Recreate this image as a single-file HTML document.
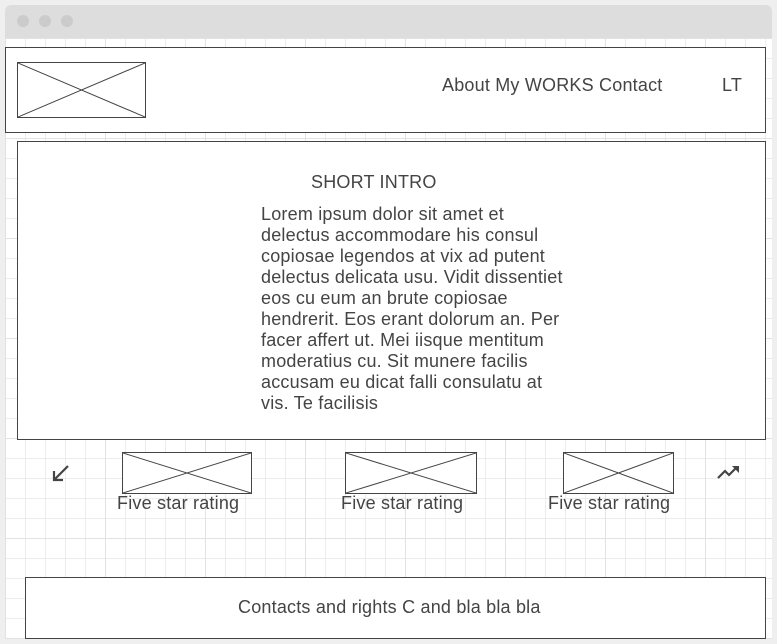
<!DOCTYPE html>
<html><head><meta charset="utf-8"><style>
*{box-sizing:border-box;margin:0;padding:0}
body{width:777px;height:644px;background:#efefef;position:relative;overflow:hidden;font-family:"Liberation Sans",sans-serif;color:#444}
.win{position:absolute;left:5px;top:5px;width:767px;height:634px;background:#fff;border-radius:6px 6px 0 0;overflow:hidden}
.bar{position:absolute;left:0;top:0;width:100%;height:33px;background:#dddddd}
.dot{position:absolute;top:10px;width:12px;height:12px;border-radius:50%;background:#cbcbcb}
.grid{position:absolute;left:0;top:33px;width:100%;height:601px;
background-image:linear-gradient(#e2e2e2 1px,transparent 1px),linear-gradient(90deg,#e2e2e2 1px,transparent 1px),linear-gradient(#ececec 1px,transparent 1px),linear-gradient(90deg,#ececec 1px,transparent 1px);
background-size:100px 100px,100px 100px,20px 20px,20px 20px;background-position:0 0,0 0,0 0,0 0}
.box{position:absolute;border:1.5px solid #444;background:#fff}
.ph{position:absolute;border:1.3px solid #444;background:#fff}
.ph svg{position:absolute;left:0;top:0;width:100%;height:100%}
.t{position:absolute;font-size:18px;letter-spacing:0.2px;white-space:nowrap}
</style></head><body>
<div class="win">
<div class="bar">
<div class="dot" style="left:12px"></div>
<div class="dot" style="left:34px"></div>
<div class="dot" style="left:56px"></div>
</div>
<div class="grid"></div>
</div>

<div class="box" style="left:5px;top:47px;width:761px;height:86px"></div>
<div class="ph" style="left:17px;top:62px;width:129px;height:56px"><svg preserveAspectRatio="none" viewBox="0 0 100 100"><line x1="0" y1="0" x2="100" y2="100" stroke="#444" stroke-width="1" vector-effect="non-scaling-stroke"/><line x1="100" y1="0" x2="0" y2="100" stroke="#444" stroke-width="1" vector-effect="non-scaling-stroke"/></svg></div>
<div class="t" style="left:442px;top:75px">About My WORKS Contact</div>
<div class="t" style="left:722px;top:75px">LT</div>

<div class="box" style="left:17px;top:141px;width:749px;height:299px"></div>
<div class="t" style="left:311px;top:172px">SHORT INTRO</div>
<div style="position:absolute;left:261px;top:204px;width:306px;font-size:18px;letter-spacing:0.2px;line-height:21px;color:#444">Lorem ipsum dolor sit amet et delectus accommodare his consul copiosae legendos at vix ad putent delectus delicata usu. Vidit dissentiet eos cu eum an brute copiosae hendrerit. Eos erant dolorum an. Per facer affert ut. Mei iisque mentitum moderatius cu. Sit munere facilis accusam eu dicat falli consulatu at vis. Te facilisis</div>

<svg style="position:absolute;left:50px;top:462px" width="22" height="22"><path d="M18 4 L5 17 M4 9 L4 18 L13 18" stroke="#444" stroke-width="2.2" fill="none"/></svg>
<svg style="position:absolute;left:716px;top:464px" width="26" height="18"><path d="M2 14 L9 7 L13 11 L21 3" stroke="#444" stroke-width="2.2" fill="none"/><path d="M16 2 L23 2 L23 9 Z" fill="#444"/></svg>

<div class="ph" style="left:122px;top:452px;width:130px;height:42px"><svg preserveAspectRatio="none" viewBox="0 0 100 100"><line x1="0" y1="0" x2="100" y2="100" stroke="#444" vector-effect="non-scaling-stroke"/><line x1="100" y1="0" x2="0" y2="100" stroke="#444" vector-effect="non-scaling-stroke"/></svg></div>
<div class="t" style="left:117px;top:493px">Five star rating</div>
<div class="ph" style="left:345px;top:452px;width:132px;height:42px"><svg preserveAspectRatio="none" viewBox="0 0 100 100"><line x1="0" y1="0" x2="100" y2="100" stroke="#444" vector-effect="non-scaling-stroke"/><line x1="100" y1="0" x2="0" y2="100" stroke="#444" vector-effect="non-scaling-stroke"/></svg></div>
<div class="t" style="left:341px;top:493px">Five star rating</div>
<div class="ph" style="left:563px;top:452px;width:111px;height:42px"><svg preserveAspectRatio="none" viewBox="0 0 100 100"><line x1="0" y1="0" x2="100" y2="100" stroke="#444" vector-effect="non-scaling-stroke"/><line x1="100" y1="0" x2="0" y2="100" stroke="#444" vector-effect="non-scaling-stroke"/></svg></div>
<div class="t" style="left:548px;top:493px">Five star rating</div>

<div class="box" style="left:25px;top:577px;width:741px;height:62px"></div>
<div class="t" style="left:238px;top:597px">Contacts and rights C and bla bla bla</div>
</body></html>
